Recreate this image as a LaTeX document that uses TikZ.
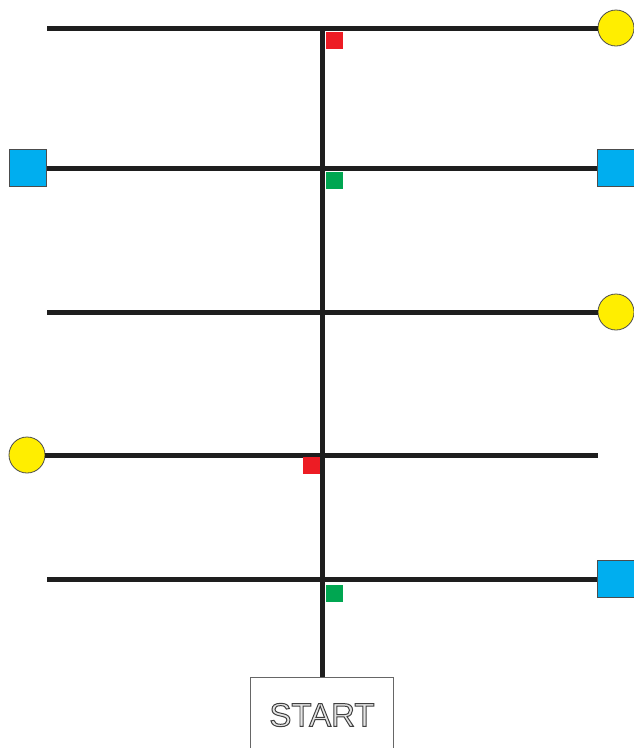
\documentclass[tikz,border=0pt]{standalone}
\usepackage{fontspec}
\setmainfont{Liberation Sans}
\newfontfamily\outlinefont[FakeBold=3]{Liberation Sans}
\definecolor{tokblue}{HTML}{00AEEF}
\definecolor{tokyellow}{HTML}{FFEE00}
\definecolor{markred}{HTML}{ED1C24}
\definecolor{markgreen}{HTML}{00A651}
\definecolor{railblack}{HTML}{1E1E1E}
\tikzset{
  rail/.style={draw=railblack, line width=5pt},
  sqtoken/.style={rectangle, draw=black!70, line width=0.8pt, fill=tokblue,
    minimum size=37pt, inner sep=0pt},
  cirtoken/.style={circle, draw=black!70, line width=0.8pt, fill=tokyellow,
    minimum size=36pt, inner sep=0pt},
  marker/.style={rectangle, minimum size=17pt, inner sep=0pt},
  startbox/.style={rectangle, draw=black!60, line width=1pt, fill=white,
    minimum width=143pt, minimum height=100pt, anchor=north, inner sep=0pt},
}
% dark gray stroke, light fill for the lettering
\newcommand{\hollowtext}[1]{{\color{black!75}\special{pdf:literal direct 0.9 g}#1}}
\begin{document}
\begin{tikzpicture}[x=1pt, y=-1pt]
  \useasboundingbox (0,0) rectangle (634,748);
  \clip (0,0) rectangle (634,748);

  % end tokens
  \node[cirtoken] (c1) at (616,28) {};
  \node[sqtoken]  (s2l) at (28,168) {};
  \node[sqtoken]  (s2r) at (616,168) {};
  \node[cirtoken] (c3) at (616,312) {};
  \node[cirtoken] (c4) at (27,455) {};
  \node[sqtoken]  (s5) at (616,579) {};

  % free ends of the branches
  \coordinate (e1) at (47,28);
  \coordinate (e3) at (47,312);
  \coordinate (e4) at (598,455);
  \coordinate (e5) at (47,579);
  \coordinate (top) at (322,28);

  % start box with hollow lettering
  \node[startbox] (start) at (322,677) {};
  \node[font=\outlinefont\fontsize{33}{33}\selectfont, inner sep=0pt] (startlbl)
    at (322,715) {\hollowtext{START}};

  % trunk and branches
  \draw[rail] (top) -- (start.north);
  \draw[rail] (e1) -- (c1.west);
  \draw[rail] (s2l.east) -- (s2r.west);
  \draw[rail] (e3) -- (c3.west);
  \draw[rail] (c4.east) -- (e4);
  \draw[rail] (e5) -- (s5.west);

  % junction markers
  \node[marker, fill=markred]   (m1) at (334.5,40.5) {};
  \node[marker, fill=markgreen] (m2) at (334.5,180.5) {};
  \node[marker, fill=markred]   (m4) at (311.5,465.5) {};
  \node[marker, fill=markgreen] (m5) at (334.5,593) {};
\end{tikzpicture}
\end{document}
